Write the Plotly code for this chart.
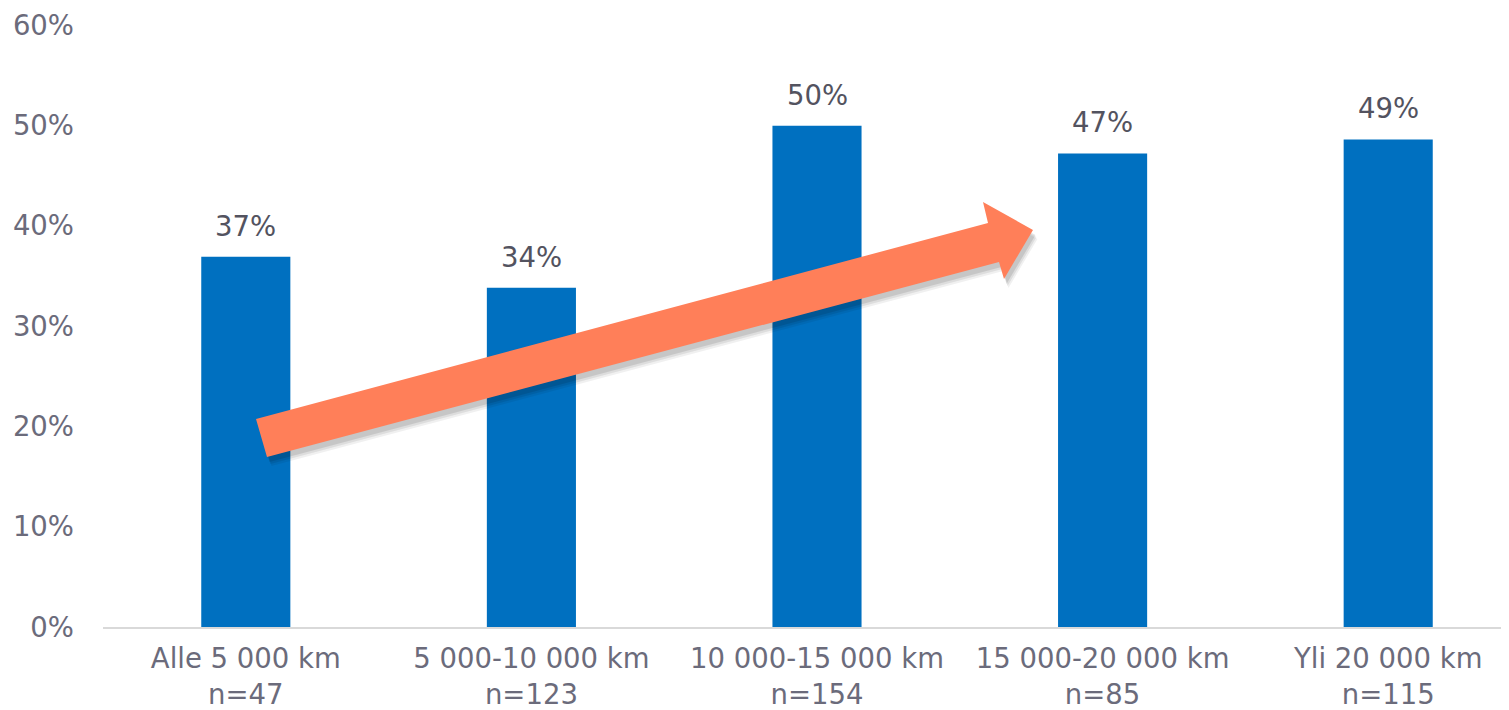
import plotly.graph_objects as go

categories = ["Alle 5 000 km<br>n=47", "5 000-10 000 km<br>n=123", "10 000-15 000 km<br>n=154",
              "15 000-20 000 km<br>n=85", "Yli 20 000 km<br>n=115"]
values = [0.369, 0.338, 0.4995, 0.472, 0.486]
labels = ["37%", "34%", "50%", "47%", "49%"]
y_ticks = [0, 0.1, 0.2, 0.3, 0.4, 0.5, 0.6]
y_ticklabels = ["0%", "10%", "20%", "30%", "40%", "50%", "60%"]

OFF = 8  # page offset of the figure
W, H = 1509 - OFF, 710 - OFF
ML, MT, MB, MR = 103 - OFF, 25 - OFF, 710 - 627, 0
PW, PH = W - ML - MR, H - MT - MB
CAT_W = 285.6  # pixel width of one category
X_RANGE = [-0.5, -0.5 + PW / CAT_W]

def px(x, y):
    # x, y in page pixels
    return (x - OFF - ML) / PW, (H - MB - (y - OFF)) / PH

arrow_px = [(256, 419), (988, 223), (983, 202), (1033, 230), (1004, 279), (999, 262), (267, 457)]

def path_from(pts, dx=0, dy=0):
    s = ""
    for i, (x, y) in enumerate(pts):
        u, v = px(x + dx, y + dy)
        s += ("M" if i == 0 else "L") + f"{u:.5f},{v:.5f} "
    return s + "Z"

font = "DejaVu Sans, Verdana, sans-serif"
FS = 27.5

fig = go.Figure()
fig.add_trace(go.Bar(x=categories, y=values, marker_color="#0070C0", width=0.312,
                     marker_line_width=0, hoverinfo="skip"))

for c, v, t in zip(categories, values, labels):
    fig.add_annotation(x=c, y=v, text=t, showarrow=False, yanchor="bottom", yshift=13,
                       font=dict(family=font, size=FS, color="#53535f"))

shapes = []
for op, d in [(0.06, 9), (0.08, 7), (0.10, 5)]:
    shapes.append(dict(type="path", xref="paper", yref="paper", path=path_from(arrow_px, d * 0.5, d),
                       fillcolor=f"rgba(0,0,0,{op})", line=dict(width=0), layer="above"))
shapes.append(dict(type="path", xref="paper", yref="paper", path=path_from(arrow_px),
                   fillcolor="#FF7F59", line=dict(width=0), layer="above"))

fig.update_layout(
    width=W, height=H, margin=dict(l=ML, r=MR, t=MT, b=MB, autoexpand=False),
    plot_bgcolor="white", paper_bgcolor="white", showlegend=False,
    shapes=shapes,
    font=dict(family=font, size=FS, color="#6b6b7b"),
    xaxis=dict(range=X_RANGE, showline=True, linecolor="#d9d9d9", linewidth=2,
               showgrid=False, ticks="", ticklabelstandoff=6,
               tickfont=dict(size=FS, color="#6b6b7b"), fixedrange=True),
    yaxis=dict(range=[0, 0.6], tickvals=y_ticks, ticktext=y_ticklabels, showgrid=False,
               zeroline=False, showline=False, ticks="", ticklabelstandoff=28,
               tickfont=dict(size=FS, color="#6b6b7b"), fixedrange=True),
)
fig.write_html("out.html")
